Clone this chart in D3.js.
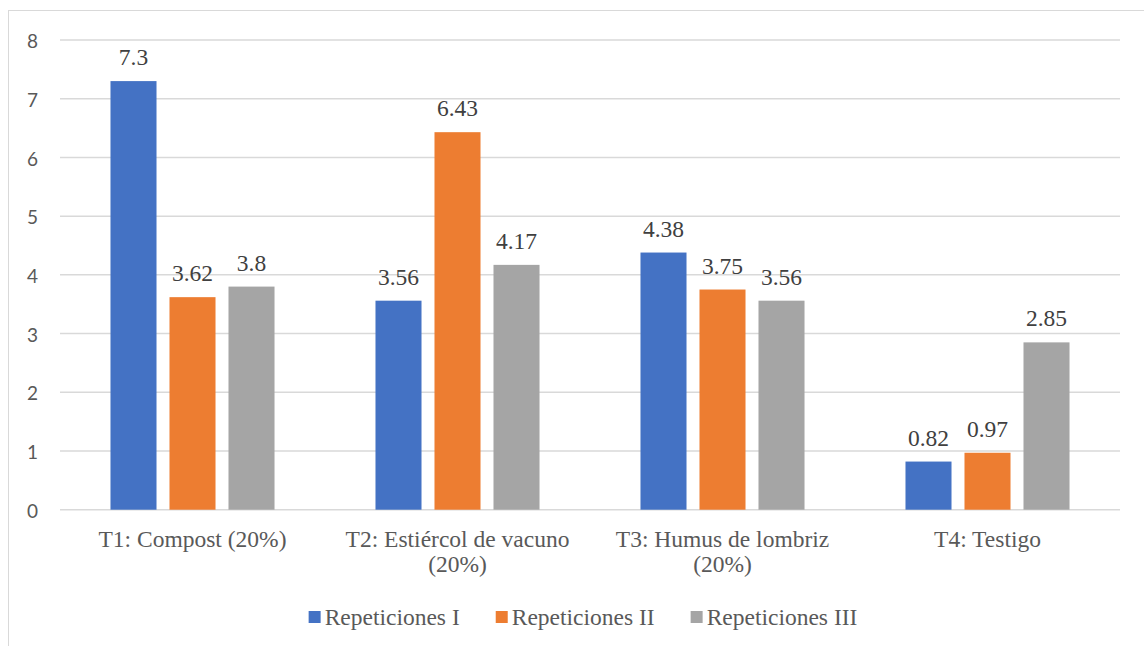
<!DOCTYPE html>
<html>
<head>
<meta charset="utf-8">
<script src="https://cdn.jsdelivr.net/npm/d3@7"></script>
<style>
  html, body { margin: 0; padding: 0; background: #fff; }
  svg { display: block; }
  .serif { font-family: "Liberation Serif", "Times New Roman", Times, serif; }
  .sans { font-family: Lato, "Liberation Sans", Arial, sans-serif; }
</style>
</head>
<body>
<svg id="chart" width="1144" height="646"></svg>
<script>
// Treatments, series and their values
const categories = [
  ["T1: Compost (20%)"],
  ["T2: Estiércol de vacuno", "(20%)"],
  ["T3: Humus de lombriz", "(20%)"],
  ["T4: Testigo"]
];
const seriesNames = ["Repeticiones I", "Repeticiones II", "Repeticiones III"];
const repI   = [7.3, 3.56, 4.38, 0.82];
const repII  = [3.62, 6.43, 3.75, 0.97];
const repIII = [3.8, 4.17, 3.56, 2.85];
const yTicks = [0, 1, 2, 3, 4, 5, 6, 7, 8];
const colors = ["#4472C4", "#ED7D31", "#A5A5A5"];

const seriesValues = [repI, repII, repIII];
const catKeys = categories.map(c => c.join(" "));

const svg = d3.select("#chart");

// chart frame
svg.append("rect")
  .attr("x", 8.5).attr("y", 10.5)
  .attr("width", 1200).attr("height", 700)
  .attr("fill", "#fff")
  .attr("stroke", "#d9d9d9").attr("stroke-width", 1);

const plot = { left: 60, right: 1120, top: 40, bottom: 509.7 };

const y = d3.scaleLinear().domain([0, 8]).range([plot.bottom, plot.top]);
const x0 = d3.scaleBand().domain(catKeys).range([plot.left, plot.right]).padding(0);
const groupWidth = x0.bandwidth() * 0.619;
const x1 = d3.scaleBand().domain(seriesNames)
  .range([-groupWidth / 2, groupWidth / 2])
  .paddingInner(0.22).paddingOuter(0);

// gridlines
svg.append("g")
  .selectAll("line")
  .data(yTicks)
  .join("line")
  .attr("x1", plot.left).attr("x2", plot.right)
  .attr("y1", d => y(d)).attr("y2", d => y(d))
  .attr("stroke", "#d9d9d9").attr("stroke-width", 1.5);

// y axis labels
const yAxis = d3.axisLeft(y).tickValues(yTicks).tickSize(0).tickPadding(0).tickFormat(d3.format("d"));
const yg = svg.append("g").attr("transform", "translate(38,1.5)").call(yAxis);
yg.select(".domain").remove();
yg.attr("font-family", null).attr("font-size", null);
yg.selectAll("text")
  .attr("class", "sans")
  .style("font-size", "19px")
  .attr("fill", "#595959");

// bars and value labels
const groups = svg.append("g")
  .selectAll("g")
  .data(catKeys)
  .join("g")
  .attr("transform", d => `translate(${x0(d) + x0.bandwidth() / 2},0)`);

groups.each(function (cat, ci) {
  const g = d3.select(this);
  const rows = seriesNames.map((s, si) => ({ s, si, v: seriesValues[si][ci] }));
  g.selectAll("rect")
    .data(rows)
    .join("rect")
    .attr("x", d => x1(d.s))
    .attr("width", x1.bandwidth())
    .attr("y", d => y(d.v))
    .attr("height", d => y(0) - y(d.v))
    .attr("fill", d => colors[d.si]);
  g.selectAll("text")
    .data(rows)
    .join("text")
    .attr("class", "serif")
    .attr("x", d => x1(d.s) + x1.bandwidth() / 2)
    .attr("y", d => y(d.v) - 16)
    .attr("text-anchor", "middle")
    .style("font-size", "23.5px")
    .attr("fill", "#404040")
    .text(d => d.v);
});

// category labels
const catG = svg.append("g");
categories.forEach((lines, i) => {
  const cx = x0(catKeys[i]) + x0.bandwidth() / 2;
  const t = catG.append("text")
    .attr("class", "serif")
    .attr("x", cx)
    .attr("y", 546.5)
    .attr("text-anchor", "middle")
    .style("font-size", "23.5px")
    .attr("fill", "#595959");
  lines.forEach((ln, li) => {
    t.append("tspan")
      .attr("x", cx)
      .attr("dy", li === 0 ? 0 : 25)
      .text(ln);
  });
});

// legend
const legend = svg.append("g");
const items = legend.selectAll("g")
  .data(seriesNames)
  .join("g");
items.append("rect")
  .attr("width", 12).attr("height", 12)
  .attr("y", 611)
  .attr("fill", (d, i) => colors[i]);
items.append("text")
  .attr("class", "serif")
  .attr("x", 16).attr("y", 624.5)
  .style("font-size", "23.5px")
  .attr("fill", "#595959")
  .text(d => d);
let cursor = 0;
const widths = [];
items.each(function () {
  widths.push(16 + d3.select(this).select("text").node().getComputedTextLength());
});
const itemGap = 36;
const total = d3.sum(widths) + itemGap * (widths.length - 1);
const start = 583 - total / 2;
items.attr("transform", (d, i) => {
  const xPos = start + cursor;
  cursor += widths[i] + itemGap;
  return `translate(${xPos},0)`;
});
</script>
</body>
</html>
